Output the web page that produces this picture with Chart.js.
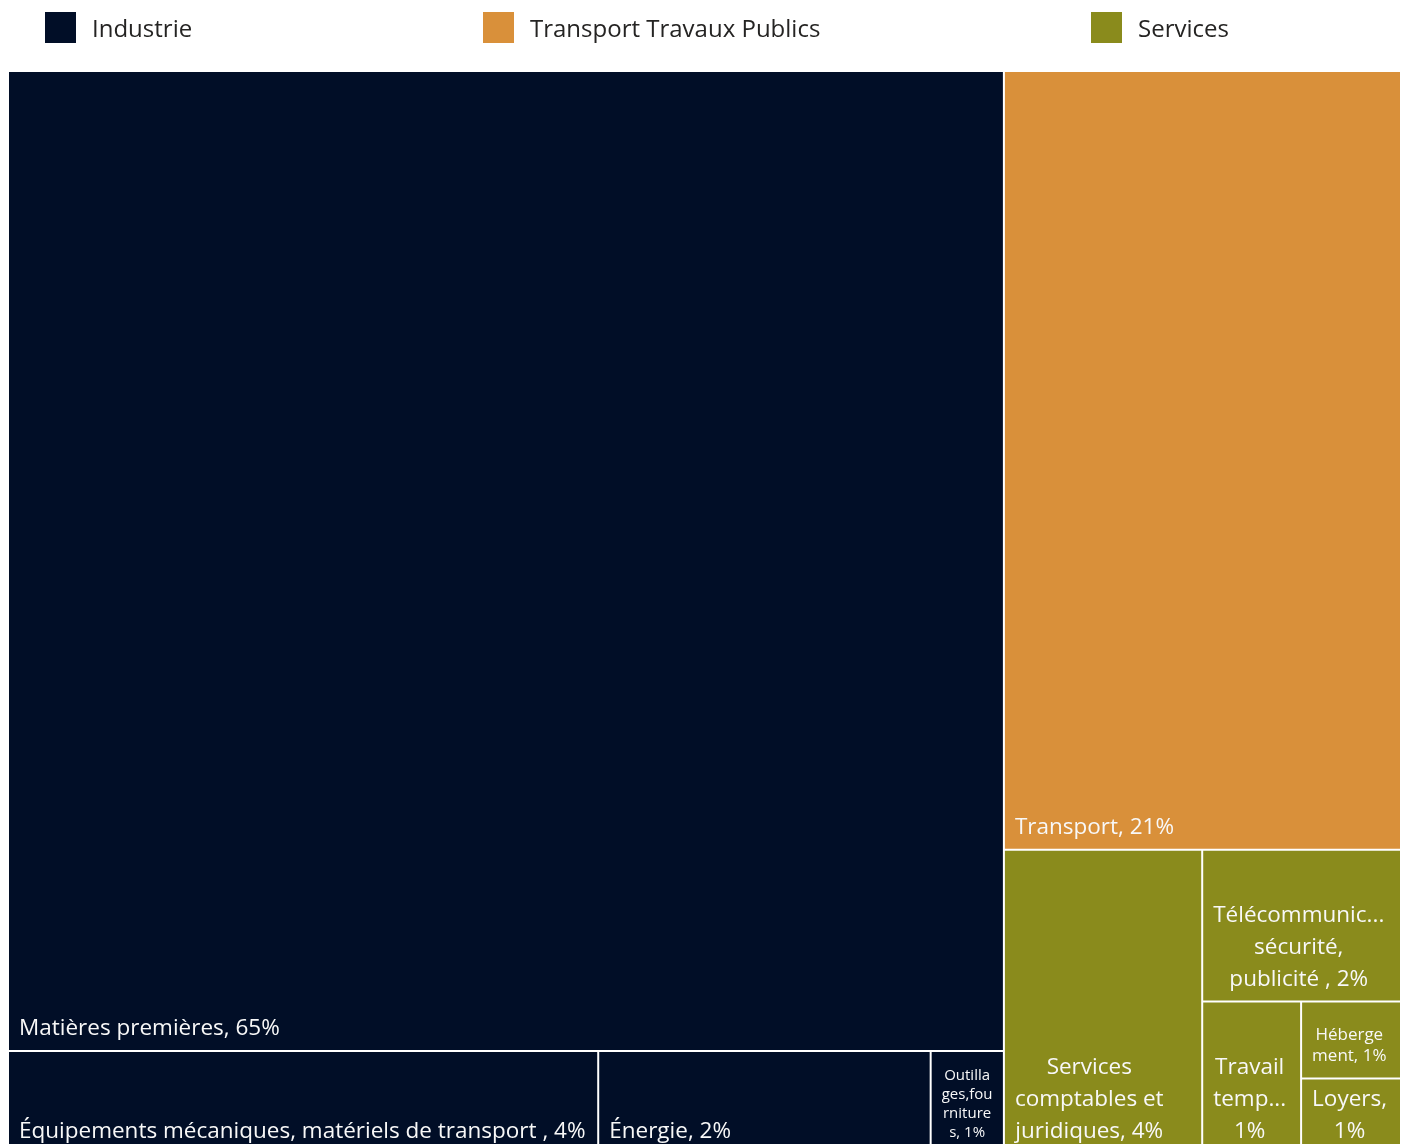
<!DOCTYPE html>
<html lang="fr">
<head>
<meta charset="utf-8">
<title>Répartition des achats</title>
<script src="https://cdn.jsdelivr.net/npm/chart.js@4.4.1/dist/chart.umd.min.js"></script>
<style>
  html, body { margin: 0; padding: 0; background: #fff; overflow: hidden; }
  #wrap { position: relative; width: 1408px; height: 1144px; }
  #chart { position: absolute; left: 0; top: 0; }
  .legend-item {
    position: absolute; top: 12px; height: 31px;
    display: flex; align-items: center; gap: 16px;
    font: 24px "Open Sans", sans-serif; color: #252423; white-space: nowrap;
  }
  .legend-item i { display: block; width: 31px; height: 31px; }
</style>
</head>
<body>
<div id="wrap">
  <canvas id="chart" width="1408" height="1160"></canvas>
  <div id="legend"></div>
</div>
<script>
// Groups and their sub-categories (shares in % of total purchases)
const groups = ['Industrie', 'Transport Travaux Publics', 'Services'];
const categories = [
  'Matières premières',
  'Équipements mécaniques, matériels de transport ',
  'Énergie',
  'Outillages,fournitures',
  'Transport',
  'Services comptables et juridiques',
  'Télécommunications, sécurité, publicité ',
  'Travail temporaire',
  'Hébergement',
  'Loyers'
];
const categoryGroup = [0, 0, 0, 0, 1, 2, 2, 2, 2, 2];
const shares = [64.7, 4.03, 2.27, 0.5, 20.5, 4.0, 2.0, 1.0, 0.51, 0.5];

const GROUP_COLORS = ['#010E27', '#D9903A', '#8A8B1C'];
const LEGEND_X = [45, 483, 1091];
const FONT = '"Open Sans", sans-serif';

// --- squarified treemap layout ---
function sumOf(items) {
  return items.reduce((s, d) => s + d.v, 0);
}

function worst(row, side, k) {
  const s = sumOf(row) * k;
  const max = Math.max(...row.map(d => d.v)) * k;
  const min = Math.min(...row.map(d => d.v)) * k;
  return Math.max(side * side * max / (s * s), (s * s) / (side * side * min));
}

function squarify(items, x, y, w, h) {
  const k = w * h / sumOf(items);
  const out = [];
  let rest = items.slice();
  while (rest.length) {
    const side = Math.min(w, h);
    let n = 1;
    while (n < rest.length && worst(rest.slice(0, n + 1), side, k) <= worst(rest.slice(0, n), side, k)) n++;
    const row = rest.slice(0, n);
    rest = rest.slice(n);
    const area = sumOf(row) * k;
    if (w >= h) {
      const cw = rest.length ? area / h : w;
      let cy = y;
      row.forEach(d => {
        const ch = d.v * k / cw;
        out.push({ i: d.i, x: x, y: cy, w: cw, h: ch });
        cy += ch;
      });
      x += cw; w -= cw;
    } else {
      const rh = rest.length ? area / w : h;
      let cx = x;
      row.forEach(d => {
        const cw = d.v * k / rh;
        out.push({ i: d.i, x: cx, y: y, w: cw, h: rh });
        cx += cw;
      });
      y += rh; h -= rh;
    }
  }
  return out;
}

// Lays out groups first, then each group's categories inside its rectangle.
// Works in a 100-high box whose width follows the plot's aspect ratio.
function layoutCells(values, groupOf, aspect) {
  const byValue = (a, b) => b.v - a.v;
  const groupItems = groups.map((g, gi) => ({
    i: gi,
    v: values.reduce((s, v, i) => s + (groupOf[i] === gi ? v : 0), 0)
  })).sort(byValue);
  const cells = [];
  squarify(groupItems, 0, 0, 100 * aspect, 100).forEach(gr => {
    const kids = values.map((v, i) => ({ i, v })).filter(d => groupOf[d.i] === gr.i).sort(byValue);
    squarify(kids, gr.x, gr.y, gr.w, gr.h).forEach(c => {
      cells[c.i] = { x0: c.x / aspect, x1: (c.x + c.w) / aspect, y0: c.y, y1: c.y + c.h };
    });
  });
  return cells;
}

// --- label text helpers ---
function tokenize(text) {
  const words = [];
  text.split(' ').filter(w => w.length).forEach(w => {
    if (/^[,;.:]$/.test(w) && words.length) words[words.length - 1] += '\u00A0' + w;
    else words.push(w);
  });
  return words;
}

function truncate(ctx, word, avail) {
  let s = word;
  while (s.length > 1 && ctx.measureText(s + '...').width > avail) s = s.slice(0, -1);
  return s + '...';
}

function wordWrap(ctx, words, avail) {
  const lines = [];
  let cur = '';
  words.forEach(w => {
    if (ctx.measureText(w).width > avail) w = truncate(ctx, w, avail);
    const test = cur ? cur + ' ' + w : w;
    if (!cur || ctx.measureText(test).width <= avail) cur = test;
    else { lines.push(cur); cur = w; }
  });
  if (cur) lines.push(cur);
  return lines;
}

function charWrap(ctx, text, avail) {
  const lines = [];
  let cur = '';
  for (const ch of text) {
    if (cur && ctx.measureText(cur + ch).width > avail) { lines.push(cur.trim()); cur = ch; }
    else cur += ch;
  }
  if (cur.trim()) lines.push(cur.trim());
  return lines;
}

function drawCellLabel(ctx, text, left, top, w, h) {
  const pad = 11;
  const avail = w - 2 * pad;
  let size = 22.5, lineH = 32, bottomPad = 6;
  ctx.font = size + 'px ' + FONT;
  const words = tokenize(text);
  const tooWide = words.some(wd => ctx.measureText(wd).width > avail);
  let lines;
  if (tooWide && w < 110 && h < 110) {
    // very small cells: shrink the text and break inside words
    size = Math.min(17, Math.round(w / 5));
    lineH = size + 4;
    bottomPad = 12;
    ctx.font = size + 'px ' + FONT;
    lines = charWrap(ctx, text, avail);
  } else {
    lines = wordWrap(ctx, words, avail);
  }
  const blockW = Math.max(...lines.map(l => ctx.measureText(l).width));
  const cx = left + pad + blockW / 2;
  ctx.save();
  ctx.beginPath();
  ctx.rect(left, top, w, h);
  ctx.clip();
  ctx.fillStyle = '#f8f8f8';
  ctx.textAlign = 'center';
  ctx.textBaseline = 'middle';
  lines.forEach((ln, j) => {
    const yy = top + h - bottomPad - lineH / 2 - (lines.length - 1 - j) * lineH;
    ctx.fillText(ln, cx, yy);
  });
  ctx.restore();
}

// --- treemap controller drawing each cell as a bar element ---
class TreemapController extends Chart.DatasetController {
  parsePrimitiveData(meta, data, start, count) {
    const parsed = [];
    for (let i = start; i < start + count; i++) parsed.push({ x: i, y: data[i] });
    return parsed;
  }

  update(mode) {
    const meta = this._cachedMeta;
    this.updateElements(meta.data, 0, meta.data.length, mode);
  }

  updateElements(rects, start, count, mode) {
    const { xScale, yScale } = this._cachedMeta;
    const ds = this.getDataset();
    const aspect = (xScale.right - xScale.left) / (yScale.bottom - yScale.top);
    const cells = layoutCells(ds.data, ds.groupOf, aspect);
    for (let i = start; i < start + count; i++) {
      const c = cells[i];
      const left = xScale.getPixelForValue(c.x0);
      const right = xScale.getPixelForValue(c.x1);
      const top = yScale.getPixelForValue(c.y0);
      const bottom = yScale.getPixelForValue(c.y1);
      this.updateElement(rects[i], i, {
        x: (left + right) / 2,
        y: top,
        base: bottom,
        width: right - left,
        height: bottom - top,
        horizontal: false,
        borderSkipped: {},
        inflateAmount: 0,
        enableBorderRadius: false,
        options: this.resolveDataElementOptions(i, mode)
      }, mode);
    }
  }

  draw() {
    super.draw();
    const ctx = this.chart.ctx;
    const ds = this.getDataset();
    this._cachedMeta.data.forEach((el, i) => {
      const { x, y, base, width } = el.getProps(['x', 'y', 'base', 'width']);
      const text = ds.labels[i] + ', ' + Math.round(ds.data[i]) + '%';
      drawCellLabel(ctx, text, x - width / 2, y, width, base - y);
    });
  }
}
TreemapController.id = 'treemap';
TreemapController.defaults = { dataElementType: 'bar', datasetElementType: false };
Chart.register(TreemapController);

// Legend
const legendEl = document.getElementById('legend');
groups.forEach((g, gi) => {
  const item = document.createElement('div');
  item.className = 'legend-item';
  item.style.left = LEGEND_X[gi] + 'px';
  item.innerHTML = '<i style="background:' + GROUP_COLORS[gi] + '"></i><span>' + g + '</span>';
  legendEl.appendChild(item);
});

new Chart(document.getElementById('chart'), {
  type: 'treemap',
  data: {
    datasets: [{
      data: shares,
      labels: categories,
      groupOf: categoryGroup,
      backgroundColor: ctx => GROUP_COLORS[categoryGroup[ctx.dataIndex]],
      borderColor: 'rgba(255, 255, 255, 0.85)',
      borderWidth: 1
    }]
  },
  options: {
    responsive: false,
    animation: false,
    events: [],
    layout: { padding: { left: 8, right: 7, top: 71, bottom: 6 } },
    scales: {
      x: { type: 'linear', min: 0, max: 100, display: false },
      y: { type: 'linear', min: 0, max: 100, reverse: true, display: false }
    },
    plugins: {
      legend: { display: false },
      tooltip: { enabled: false }
    }
  }
});
</script>
</body>
</html>
